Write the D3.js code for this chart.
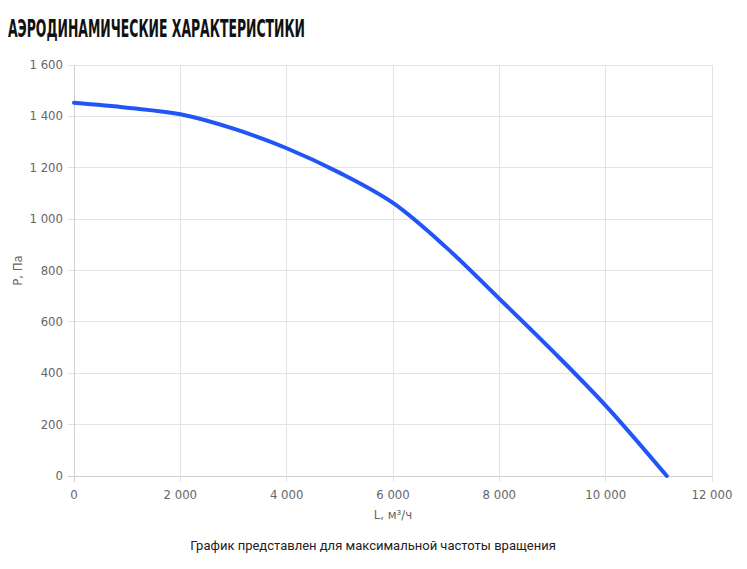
<!DOCTYPE html>
<html>
<head>
<meta charset="utf-8">
<script src="https://cdn.jsdelivr.net/npm/d3@7.9.0/dist/d3.min.js"></script>
<style>
  body { margin: 0; background: #fff; }
  svg { display: block; }
</style>
</head>
<body>
<svg id="chart" width="747" height="569"></svg>
<script>
// airflow, m3/h
const flow = [0, 1000, 2000, 3000, 4000, 5000, 6000, 7000, 8000, 9000, 10000, 11150];
// pressure, Pa
const pressure = [1453, 1434, 1408, 1352, 1276, 1180, 1063, 890, 690, 487, 274, 0];
const xTicks = [0, 2000, 4000, 6000, 8000, 10000, 12000];
const yTicks = [0, 200, 400, 600, 800, 1000, 1200, 1400, 1600];

const titleText = "АЭРОДИНАМИЧЕСКИЕ ХАРАКТЕРИСТИКИ";
const xLabel = "L, м³/ч";
const yLabel = "P, Па";
const note = "График представлен для максимальной частоты вращения";

const svg = d3.select("#chart");
const margin = { left: 74, right: 35, top: 65, bottom: 93 };
const W = 747, H = 569;

const x = d3.scaleLinear().domain([0, 12000]).range([margin.left, W - margin.right]);
const y = d3.scaleLinear().domain([0, 1600]).range([H - margin.bottom, margin.top]);

const fmt = v => d3.format(",")(v).replace(/,/g, " ");
const tickFont = "'Liberation Sans Narrow', 'DejaVu Sans Condensed', sans-serif";

// title
svg.append("text")
  .attr("x", 8).attr("y", 37)
  .attr("font-family", "'Liberation Sans Narrow', 'DejaVu Sans Condensed', sans-serif")
  .attr("font-weight", "bold")
  .attr("font-size", 25)
  .attr("textLength", 297)
  .attr("lengthAdjust", "spacingAndGlyphs")
  .attr("fill", "#111")
  .text(titleText);

// grid
svg.append("g").selectAll("line").data(yTicks).join("line")
  .attr("x1", margin.left - 6).attr("x2", W - margin.right)
  .attr("y1", d => y(d)).attr("y2", d => y(d))
  .attr("stroke", d => d === 0 ? "#cfcfcf" : "#e3e3e3")
  .attr("stroke-width", 1)
  .attr("shape-rendering", "crispEdges");

svg.append("g").selectAll("line").data(xTicks).join("line")
  .attr("x1", d => x(d)).attr("x2", d => x(d))
  .attr("y1", margin.top).attr("y2", H - margin.bottom + 6)
  .attr("stroke", d => d === 0 ? "#cfcfcf" : "#e3e3e3")
  .attr("stroke-width", 1)
  .attr("shape-rendering", "crispEdges");

// tick labels
svg.append("g").selectAll("text").data(yTicks).join("text")
  .attr("x", margin.left - 11).attr("y", d => y(d) + 4)
  .attr("text-anchor", "end")
  .attr("font-family", tickFont).attr("font-size", 13)
  .attr("fill", "#666")
  .text(fmt);

svg.append("g").selectAll("text").data(xTicks).join("text")
  .attr("x", d => x(d)).attr("y", H - margin.bottom + 23)
  .attr("text-anchor", "middle")
  .attr("font-family", tickFont).attr("font-size", 13)
  .attr("fill", "#666")
  .text(fmt);

// axis titles
svg.append("text")
  .attr("x", x(6000)).attr("y", 519)
  .attr("text-anchor", "middle")
  .attr("font-family", tickFont).attr("font-size", 13)
  .attr("fill", "#666")
  .text(xLabel);

svg.append("text")
  .attr("transform", `translate(22, ${y(800)}) rotate(-90)`)
  .attr("text-anchor", "middle")
  .attr("font-family", tickFont).attr("font-size", 13)
  .attr("fill", "#666")
  .text(yLabel);

// curve
const line = d3.line()
  .x((d, i) => x(flow[i]))
  .y(d => y(d))
  .curve(d3.curveCatmullRom.alpha(0.5));

svg.append("path")
  .datum(pressure)
  .attr("d", line)
  .attr("fill", "none")
  .attr("stroke", "#2255f5")
  .attr("stroke-width", 4)
  .attr("stroke-linecap", "round");

// note
svg.append("text")
  .attr("x", 373).attr("y", 550)
  .attr("text-anchor", "middle")
  .attr("font-family", "Roboto, sans-serif").attr("font-size", 13)
  .attr("fill", "#222")
  .text(note);
</script>
</body>
</html>
